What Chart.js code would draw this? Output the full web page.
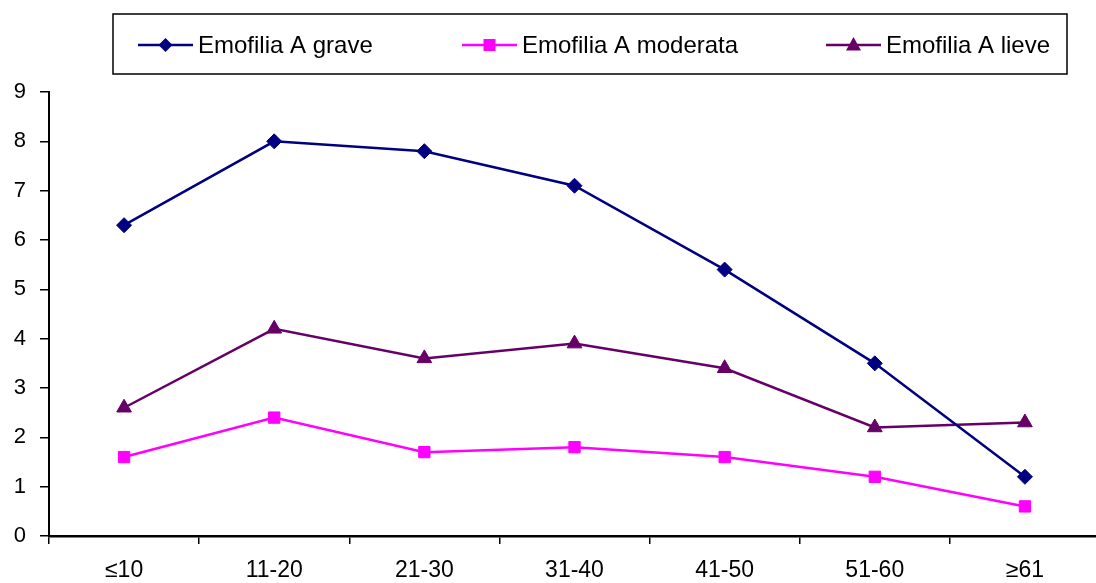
<!DOCTYPE html>
<html>
<head>
<meta charset="utf-8">
<script src="https://cdn.jsdelivr.net/npm/chart.js@4.4.1/dist/chart.umd.min.js"></script>
<style>
html,body{margin:0;padding:0;background:#fff;overflow:hidden;}
#wrap{width:1096px;height:583px;position:relative;overflow:hidden;}
</style>
</head>
<body>
<div id="wrap"><canvas id="c" width="1100" height="583"></canvas></div>
<script>
const categories = ['≤10', '11-20', '21-30', '31-40', '41-50', '51-60', '≥61'];
const seriesNames = ['Emofilia A grave', 'Emofilia A moderata', 'Emofilia A lieve'];
const grave = [6.3, 8.0, 7.8, 7.1, 5.4, 3.5, 1.2];
const moderata = [1.6, 2.4, 1.7, 1.8, 1.6, 1.2, 0.6];
const lieve = [2.6, 4.2, 3.6, 3.9, 3.4, 2.2, 2.3];
const yTicks = [0, 1, 2, 3, 4, 5, 6, 7, 8, 9];

const FONT = "'Liberation Sans', Arial, sans-serif";

const legendPlugin = {
  id: 'boxLegend',
  afterDraw(chart) {
    const ctx = chart.ctx;
    ctx.save();
    ctx.strokeStyle = '#000';
    ctx.lineWidth = 1.5;
    ctx.strokeRect(113, 14, 954, 60);
    const starts = [138, 462, 826];
    const y = 45;
    chart.data.datasets.forEach((ds, i) => {
      const x0 = starts[i];
      ctx.strokeStyle = ds.borderColor;
      ctx.lineWidth = 2.5;
      ctx.beginPath();
      ctx.moveTo(x0, y);
      ctx.lineTo(x0 + 55, y);
      ctx.stroke();
      ctx.fillStyle = ds.pointBackgroundColor;
      const cx = x0 + 27.5;
      ctx.beginPath();
      if (ds.pointStyle === 'rectRot') {
        const r = 7;
        ctx.moveTo(cx, y - r); ctx.lineTo(cx + r, y); ctx.lineTo(cx, y + r); ctx.lineTo(cx - r, y);
      } else if (ds.pointStyle === 'rect') {
        ctx.rect(cx - 6, y - 6, 12, 12);
      } else {
        ctx.moveTo(cx, y - 8); ctx.lineTo(cx + 7.5, y + 5.5); ctx.lineTo(cx - 7.5, y + 5.5);
      }
      ctx.closePath();
      ctx.fill();
      ctx.fillStyle = '#000';
      ctx.font = '24px ' + FONT;
      ctx.textBaseline = 'middle';
      ctx.textAlign = 'left';
      ctx.fillText(ds.label, x0 + 60, y + 1);
    });
    ctx.restore();
  }
};

const mk = (label, data, color, style, radius) => ({
  label, data,
  borderColor: color,
  backgroundColor: color,
  pointBackgroundColor: color,
  pointBorderColor: color,
  pointStyle: style,
  pointRadius: radius,
  pointHoverRadius: radius,
  pointBorderWidth: 1,
  borderWidth: 2.5,
  tension: 0,
  clip: false
});

new Chart(document.getElementById('c'), {
  type: 'line',
  data: {
    labels: categories,
    datasets: [
      mk(seriesNames[0], grave, '#000080', 'rectRot', 7.5),
      mk(seriesNames[1], moderata, '#FF00FF', 'rect', 8),
      mk(seriesNames[2], lieve, '#660066', 'triangle', 8.5)
    ]
  },
  options: {
    responsive: false,
    animation: false,
    devicePixelRatio: 1,
    layout: { autoPadding: false, padding: { top: 92, left: 0, right: 0, bottom: 0 } },
    plugins: { legend: { display: false }, tooltip: { enabled: false } },
    scales: {
      x: {
        type: 'category',
        offset: true,
        grid: { offset: true, drawOnChartArea: false, drawTicks: true, tickLength: 8, color: '#000', lineWidth: 1.5 },
        border: { color: '#000', width: 2.5 },
        ticks: { color: '#000', font: { family: FONT, size: 23 }, padding: 13, maxRotation: 0, autoSkip: false },
        afterFit(s) { s.height = 47; s.paddingRight = 0; s.paddingLeft = 0; }
      },
      y: {
        min: 0, max: 9,
        afterBuildTicks(s) { s.ticks = yTicks.map(v => ({ value: v })); },
        grid: { drawOnChartArea: false, drawTicks: true, tickLength: 9, color: '#000', lineWidth: 1.5 },
        border: { color: '#000', width: 2 },
        ticks: { color: '#000', font: { family: FONT, size: 22 }, padding: 14 },
        afterFit(s) { s.width = 49; }
      }
    }
  },
  plugins: [legendPlugin]
});
</script>
</body>
</html>
